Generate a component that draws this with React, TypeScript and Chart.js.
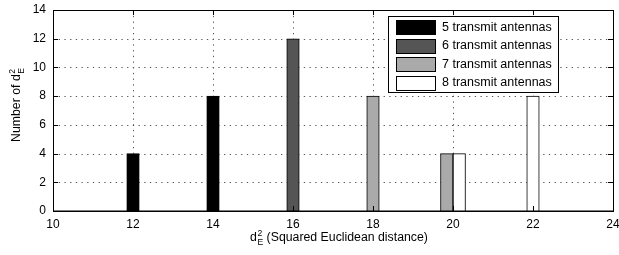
import React, { useEffect, useRef } from "react";
import { Chart, registerables } from "chart.js";

Chart.register(...registerables);

const categories = [10, 11, 12, 13, 14, 15, 16, 17, 18, 19, 20, 21, 22, 23, 24];
const seriesNames = ["5 transmit antennas", "6 transmit antennas", "7 transmit antennas", "8 transmit antennas"];
const ant5 = [null, null, 4, null, 8, null, null, null, null, null, null, null, null, null, null];
const ant6 = [null, null, null, null, null, null, 12, null, null, null, null, null, null, null, null];
const ant7 = [null, null, null, null, null, null, null, null, 8, null, 4, null, null, null, null];
const ant8 = [null, null, null, null, null, null, null, null, null, null, 4, null, 8, null, null];
const seriesColors = ["#000000", "#555555", "#aaaaaa", "#ffffff"];
const yTicks = [0, 2, 4, 6, 8, 10, 12, 14];

const FONT = "'Liberation Sans', Arial, Helvetica, sans-serif";

function drawDE(ctx: CanvasRenderingContext2D, x: number, y: number, size: number) {
  ctx.font = `${size}px ${FONT}`;
  ctx.textBaseline = "alphabetic";
  ctx.textAlign = "left";
  ctx.fillText("d", x, y);
  const dw = ctx.measureText("d").width;
  const small = size * 0.7;
  ctx.font = `${small}px ${FONT}`;
  ctx.fillText("2", x + dw + 0.5, y - size * 0.42);
  ctx.fillText("E", x + dw + 0.5, y + size * 0.3);
  const w = Math.max(ctx.measureText("2").width, ctx.measureText("E").width);
  ctx.font = `${size}px ${FONT}`;
  return dw + 0.5 + w;
}

function deWidth(ctx: CanvasRenderingContext2D, size: number) {
  ctx.font = `${size}px ${FONT}`;
  const dw = ctx.measureText("d").width;
  ctx.font = `${size * 0.7}px ${FONT}`;
  const w = Math.max(ctx.measureText("2").width, ctx.measureText("E").width);
  return dw + 0.5 + w;
}

const gridPlugin = {
  id: "dottedGrid",
  beforeDatasetsDraw(chart: any) {
    const ctx: CanvasRenderingContext2D = chart.ctx;
    const ca = chart.chartArea;
    const xs = chart.scales.x;
    const ys = chart.scales.y;
    ctx.save();
    ctx.strokeStyle = "#555";
    ctx.lineWidth = 1;
    ctx.setLineDash([1.3, 4.4]);
    ctx.beginPath();
    categories.forEach((c, i) => {
      if (c % 2 !== 0) return;
      const px = Math.round(xs.getPixelForValue(i)) + 0.5;
      ctx.moveTo(px, ca.bottom);
      ctx.lineTo(px, ca.top);
    });
    yTicks.forEach((v) => {
      const py = Math.round(ys.getPixelForValue(v)) + 0.5;
      ctx.moveTo(ca.left, py);
      ctx.lineTo(ca.right, py);
    });
    ctx.stroke();
    ctx.restore();
  },
};

const overlayPlugin = {
  id: "overlay",
  afterDraw(chart: any) {
    const ctx: CanvasRenderingContext2D = chart.ctx;
    const ca = chart.chartArea;
    const xs = chart.scales.x;
    const ys = chart.scales.y;
    ctx.save();
    // box
    ctx.strokeStyle = "#000";
    ctx.lineWidth = 1;
    ctx.setLineDash([]);
    ctx.strokeRect(Math.round(ca.left) + 0.5, Math.round(ca.top) + 0.5, Math.round(ca.right - ca.left), Math.round(ca.bottom - ca.top));
    // baseline slightly heavier like the zero bars
    ctx.beginPath();
    ctx.lineWidth = 1.5;
    ctx.moveTo(ca.left, Math.round(ca.bottom) + 0.25);
    ctx.lineTo(ca.right, Math.round(ca.bottom) + 0.25);
    ctx.stroke();
    ctx.lineWidth = 1;
    // inward ticks
    ctx.beginPath();
    categories.forEach((c, i) => {
      if (c % 2 !== 0) return;
      const px = Math.round(xs.getPixelForValue(i)) + 0.5;
      ctx.moveTo(px, ca.bottom);
      ctx.lineTo(px, ca.bottom - 5);
      ctx.moveTo(px, ca.top);
      ctx.lineTo(px, ca.top + 5);
    });
    yTicks.forEach((v) => {
      const py = Math.round(ys.getPixelForValue(v)) + 0.5;
      ctx.moveTo(ca.left, py);
      ctx.lineTo(ca.left + 5, py);
      ctx.moveTo(ca.right, py);
      ctx.lineTo(ca.right - 5, py);
    });
    ctx.stroke();

    // legend
    const lx = 388.5, ly = 16.5, lw = 170, lh = 76;
    ctx.fillStyle = "#fff";
    ctx.fillRect(lx, ly, lw, lh);
    ctx.strokeRect(lx, ly, lw, lh);
    seriesNames.forEach((name, i) => {
      const cy = 27 + i * 18.5;
      ctx.fillStyle = seriesColors[i];
      ctx.fillRect(396.5, Math.round(cy - 7) + 0.5, 39, 14);
      ctx.strokeStyle = "#000";
      ctx.strokeRect(396.5, Math.round(cy - 7) + 0.5, 39, 14);
      ctx.fillStyle = "#000";
      ctx.font = `12.5px ${FONT}`;
      ctx.textAlign = "left";
      ctx.textBaseline = "middle";
      ctx.fillText(name, 442, cy + 0.5);
    });

    // x title
    ctx.fillStyle = "#000";
    const size = 12.3;
    const rest = " (Squared Euclidean distance)";
    const w1 = deWidth(ctx, size);
    ctx.font = `${size}px ${FONT}`;
    const w2 = ctx.measureText(rest).width;
    const cx = (ca.left + ca.right) / 2 + 6;
    const x0 = cx - (w1 + w2) / 2;
    const adv = drawDE(ctx, x0, 241, size);
    ctx.font = `${size}px ${FONT}`;
    ctx.textAlign = "left";
    ctx.textBaseline = "alphabetic";
    ctx.fillText(rest, x0 + adv, 241);

    // y title
    ctx.save();
    ctx.translate(20, 105);
    ctx.rotate(-Math.PI / 2);
    const pre = "Number of ";
    ctx.font = `${size}px ${FONT}`;
    const wp = ctx.measureText(pre).width;
    const wd = deWidth(ctx, size);
    const sx = -(wp + wd) / 2;
    ctx.font = `${size}px ${FONT}`;
    ctx.textAlign = "left";
    ctx.textBaseline = "alphabetic";
    ctx.fillText(pre, sx, 0);
    drawDE(ctx, sx + wp, 0, size);
    ctx.restore();

    ctx.restore();
  },
};

export default function App() {
  const ref = useRef<HTMLCanvasElement | null>(null);
  useEffect(() => {
    if (!ref.current) return;
    const mk = (label: string, data: (number | null)[], color: string) => ({
      label,
      data,
      backgroundColor: color,
      borderColor: "#000",
      borderWidth: 1,
      barThickness: 12.5,
      skipNull: true,
    });
    const chart = new Chart(ref.current, {
      type: "bar",
      data: {
        labels: categories.map(String),
        datasets: [
          mk(seriesNames[0], ant5, seriesColors[0]),
          mk(seriesNames[1], ant6, seriesColors[1]),
          mk(seriesNames[2], ant7, seriesColors[2]),
          mk(seriesNames[3], ant8, seriesColors[3]),
        ],
      },
      options: {
        responsive: false,
        animation: false,
        layout: { padding: { left: 0, right: 6, top: 10, bottom: 0 } },
        plugins: { legend: { display: false }, tooltip: { enabled: false } },
        scales: {
          x: {
            type: "category",
            offset: false,
            grid: { display: false, offset: false, drawTicks: false },
            border: { display: false },
            ticks: {
              autoSkip: false,
              maxRotation: 0,
              padding: 6,
              color: "#000",
              font: { family: FONT, size: 12 },
              callback: (_v: any, i: number) => (categories[i] % 2 === 0 ? String(categories[i]) : ""),
            },
            afterFit: (s: any) => {
              s.height = 44;
              s.paddingLeft = 0;
              s.paddingRight = 0;
            },
          },
          y: {
            min: 0,
            max: 14,
            grid: { display: false, drawTicks: false },
            border: { display: false },
            ticks: {
              stepSize: 2,
              padding: 7,
              color: "#000",
              font: { family: FONT, size: 12 },
            },
            afterFit: (s: any) => {
              s.width = 53;
              s.paddingTop = 0;
              s.paddingBottom = 0;
            },
          },
        },
      },
      plugins: [gridPlugin, overlayPlugin],
    } as any);
    return () => chart.destroy();
  }, []);
  return (
    <div style={{ position: "fixed", left: 0, top: 0, width: 619, height: 255, background: "#fff" }}>
      <canvas ref={ref} width={619} height={255} />
    </div>
  );
}
